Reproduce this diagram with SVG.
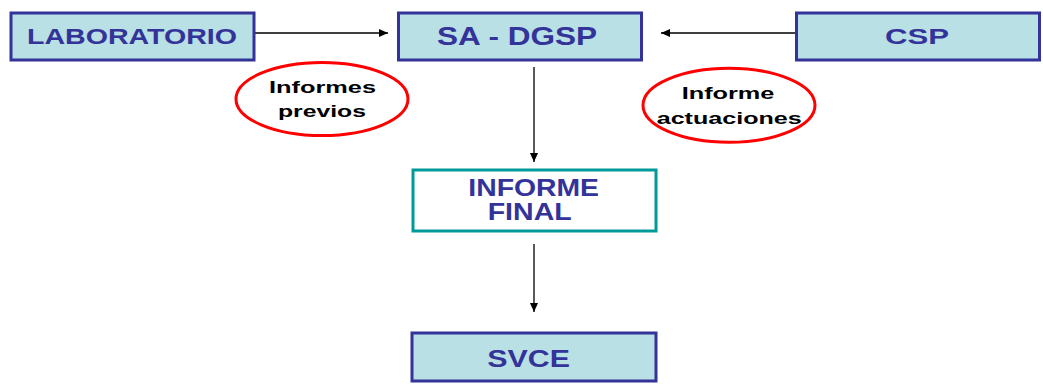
<svg xmlns="http://www.w3.org/2000/svg" width="1043" height="387" viewBox="0 0 1043 387">
  <style>
    .box { fill: #b9e0e4; stroke: #333399; stroke-width: 3; }
    .final { fill: #ffffff; stroke: #009999; stroke-width: 3; }
    .oval { fill: none; stroke: #ff0000; stroke-width: 3; }
    .lbl { font-family: "Liberation Sans", Arial, sans-serif; font-weight: bold; fill: #333399; }
    .note { font-family: "Liberation Sans", Arial, sans-serif; font-weight: bold; fill: #000000; }
    .edge { stroke: #000000; stroke-width: 1.3; fill: none; marker-end: url(#arrow); }
  </style>
  <defs>
    <marker id="arrow" markerUnits="userSpaceOnUse" markerWidth="10" markerHeight="8" refX="9" refY="4" orient="auto">
      <path d="M0,0 L9,4 L0,8 Z" fill="#000000"/>
    </marker>
  </defs>
  <rect width="1043" height="387" fill="#ffffff"/>

  <g id="connectors">
    <line class="edge" x1="255" y1="33" x2="388" y2="33"/>
    <line class="edge" x1="795" y1="33" x2="661" y2="33"/>
    <line class="edge" x1="534" y1="67" x2="534" y2="162"/>
    <line class="edge" x1="534" y1="244" x2="534" y2="312"/>
  </g>

  <g id="laboratorio">
    <rect class="box" x="11" y="13" width="243" height="47"/>
    <text class="lbl" x="27" y="44.3" font-size="22" textLength="210" lengthAdjust="spacingAndGlyphs">LABORATORIO</text>
  </g>

  <g id="sa-dgsp">
    <rect class="box" x="398.5" y="13" width="243" height="47"/>
    <text class="lbl" x="437" y="45" font-size="25" textLength="160" lengthAdjust="spacingAndGlyphs">SA - DGSP</text>
  </g>

  <g id="csp">
    <rect class="box" x="796.5" y="13" width="243" height="47"/>
    <text class="lbl" x="885" y="44.3" font-size="22" textLength="64" lengthAdjust="spacingAndGlyphs">CSP</text>
  </g>

  <g id="informe-final">
    <rect class="final" x="413" y="170" width="243" height="61"/>
    <text class="lbl" x="468.3" y="196" font-size="23" textLength="130.7" lengthAdjust="spacingAndGlyphs">INFORME</text>
    <text class="lbl" x="487.7" y="220" font-size="23" textLength="84" lengthAdjust="spacingAndGlyphs">FINAL</text>
  </g>

  <g id="svce">
    <rect class="box" x="412" y="333" width="244" height="48"/>
    <text class="lbl" x="487.3" y="366.7" font-size="23" textLength="82.7" lengthAdjust="spacingAndGlyphs">SVCE</text>
  </g>

  <g id="informes-previos">
    <ellipse class="oval" cx="322" cy="99" rx="86" ry="36.5"/>
    <text class="note" x="269" y="93.3" font-size="16.5" textLength="107" lengthAdjust="spacingAndGlyphs">Informes</text>
    <text class="note" x="278" y="116.7" font-size="16.5" textLength="88" lengthAdjust="spacingAndGlyphs">previos</text>
  </g>

  <g id="informe-actuaciones">
    <ellipse class="oval" cx="729" cy="105.3" rx="86" ry="37"/>
    <text class="note" x="681.7" y="99.3" font-size="17" textLength="92.7" lengthAdjust="spacingAndGlyphs">Informe</text>
    <text class="note" x="656.7" y="123.7" font-size="17" textLength="145" lengthAdjust="spacingAndGlyphs">actuaciones</text>
  </g>
</svg>
